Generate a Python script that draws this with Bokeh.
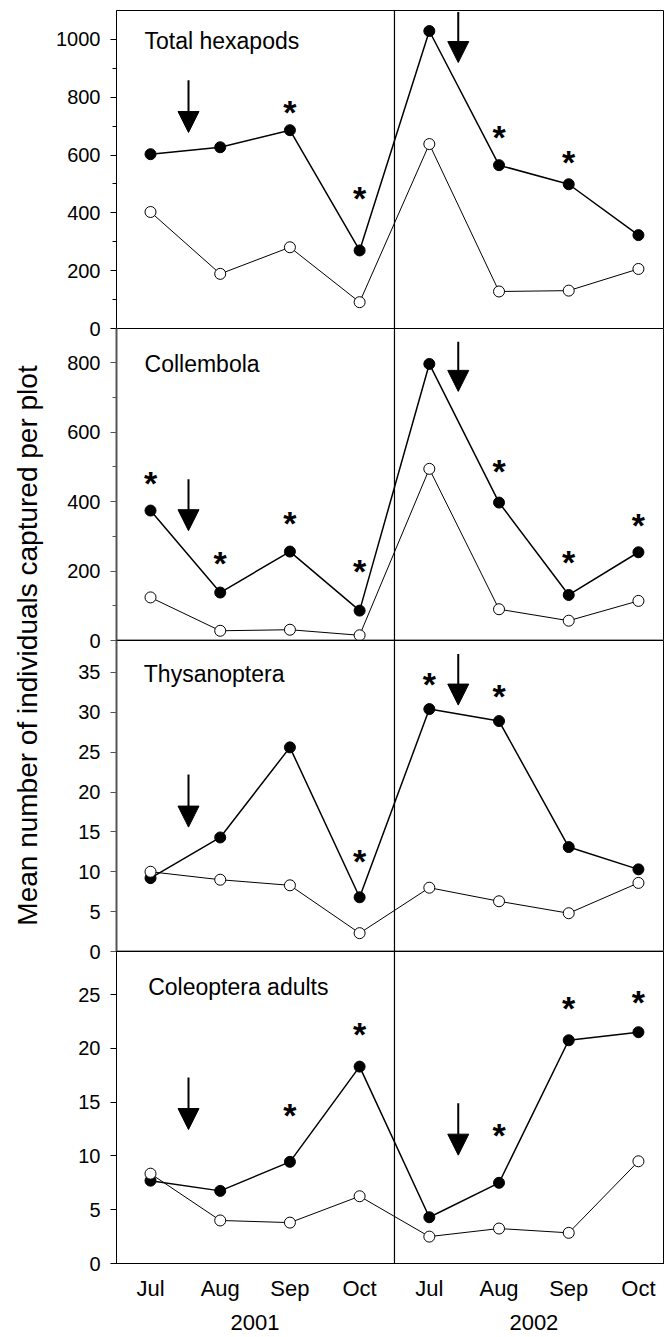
import math
from bokeh.plotting import figure
from bokeh.layouts import row, column
from bokeh.models import Range1d, FixedTicker, Span, Label, Arrow, NormalHead, LinearAxis
from bokeh.core.properties import value
from bokeh.embed import file_html
from bokeh.resources import INLINE

# ---------------- data ----------------
months = ["Jul", "Aug", "Sep", "Oct", "Jul", "Aug", "Sep", "Oct"]
years = ["2001", "2002"]
year_pos = [1.5, 5.5]
xpos = [0, 1, 2, 3, 4, 5, 6, 7]

hex_filled = [603, 627, 686, 270, 1029, 565, 499, 323]
hex_open = [403, 189, 281, 91, 638, 128, 131, 206]
coll_filled = [374, 138, 256, 86, 796, 397, 131, 254]
coll_open = [124, 28, 31, 15, 494, 90, 57, 114]
thys_filled = [9.2, 14.3, 25.6, 6.8, 30.4, 28.9, 13.1, 10.3]
thys_open = [10.0, 9.0, 8.3, 2.3, 8.0, 6.3, 4.8, 8.6]
cole_filled = [7.7, 6.75, 9.45, 18.3, 4.3, 7.5, 20.75, 21.5]
cole_open = [8.35, 4.0, 3.8, 6.25, 2.5, 3.25, 2.85, 9.5]

# significance asterisks (x index, y level)
hex_star_x = [2, 3, 5, 6]
hex_star_y = [766, 467, 679, 593]
coll_star_x = [0, 1, 2, 3, 5, 6, 7]
coll_star_y = [467, 237, 352, 215, 501, 240, 347]
thys_star_x = [3, 4, 5]
thys_star_y = [12.0, 34.2, 32.7]
cole_star_x = [2, 3, 5, 6, 7]
cole_star_y = [14.25, 21.8, 12.4, 24.2, 24.8]

FONT = "Liberation Sans"

panels = [
    dict(title="Total hexapods", filled=hex_filled, opn=hex_open, sx=hex_star_x, sy=hex_star_y,
         ymax=1100, ticks=[0, 200, 400, 600, 800, 1000], minor=[100, 300, 500, 700, 900],
         tpos=(-0.086, 1041), arrows=[(0.545, 859, 678), (4.415, 1095, 920)], fh=318,
         top=10, gray=False),
    dict(title="Collembola", filled=coll_filled, opn=coll_open, sx=coll_star_x, sy=coll_star_y,
         ymax=898, ticks=[0, 200, 400, 600, 800], minor=[100, 300, 500, 700],
         tpos=(-0.086, 834), arrows=[(0.545, 464, 316), (4.415, 860, 717)], fh=312,
         top=0, gray=True),
    dict(title="Thysanoptera", filled=thys_filled, opn=thys_open, sx=thys_star_x, sy=thys_star_y,
         ymax=39, ticks=[0, 5, 10, 15, 20, 25, 30, 35], minor=[],
         tpos=(-0.096, 36.4), arrows=[(0.545, 22.2, 15.6), (4.415, 37.3, 30.9)], fh=311,
         top=0, gray=True),
    dict(title="Coleoptera adults", filled=cole_filled, opn=cole_open, sx=cole_star_x, sy=cole_star_y,
         ymax=29, ticks=[0, 5, 10, 15, 20, 25], minor=[],
         tpos=(-0.033, 26.9), arrows=[(0.545, 17.3, 12.45), (4.415, 14.9, 10.07)], fh=312,
         top=0, gray=False),
]

LAB_W = 52
LEFT = 64
FRAME_W = 548
PW = LEFT + FRAME_W
OVER = 12        # overlap so the "0" tick label of an upper panel is not cut
BOTTOM4 = 73
xr = (-0.488, 7.374)

figs = []
for i, cfg in enumerate(panels):
    last = (i == len(panels) - 1)
    bottom = BOTTOM4 if last else OVER
    h = cfg["top"] + cfg["fh"] + bottom
    p = figure(width=PW, height=h,
               x_range=Range1d(*xr), y_range=Range1d(0, cfg["ymax"]),
               toolbar_location=None, output_backend="svg",
               x_axis_location="below" if last else None,
               min_border_left=LEFT, min_border_right=0,
               min_border_top=cfg["top"], min_border_bottom=bottom,
               margin=(0, 0, 0 if last else -OVER, 0))
    p.xgrid.visible = False
    p.ygrid.visible = False
    p.outline_line_color = "black"
    p.outline_line_width = 1
    p.background_fill_color = "white"
    p.border_fill_color = None if i > 0 else "white"

    ya = p.yaxis[0]
    ya.ticker = FixedTicker(ticks=cfg["ticks"], minor_ticks=cfg["minor"])
    ya.major_label_text_font = FONT
    ya.major_label_text_font_size = "20px"
    ya.major_label_text_color = "black"
    ya.major_tick_out = 6
    ya.major_tick_in = 0
    ya.minor_tick_out = 4
    ya.minor_tick_in = 0
    ya.major_label_standoff = 10
    axcol = "#555555" if cfg["gray"] else "black"
    ya.axis_line_color = axcol
    ya.axis_line_width = 2 if cfg["gray"] else 1
    ya.major_tick_line_color = axcol
    ya.minor_tick_line_color = axcol

    if last:
        xa = p.xaxis[0]
        xa.ticker = FixedTicker(ticks=xpos)
        xa.major_label_overrides = {k: m for k, m in zip(xpos, months)}
        xa.major_label_text_font = FONT
        xa.major_label_text_font_size = "22px"
        xa.major_label_text_color = "black"
        xa.major_tick_line_color = None
        xa.minor_tick_line_color = None
        xa.major_tick_out = 0
        xa.major_label_standoff = 12
        xa.axis_line_color = "black"
        ya2 = LinearAxis(ticker=FixedTicker(ticks=year_pos),
                         major_label_overrides={k: t for k, t in zip(year_pos, years)},
                         major_label_text_font=FONT, major_label_text_font_size="22px",
                         major_label_text_color="black", major_tick_line_color=None,
                         minor_tick_line_color=None, axis_line_color=None,
                         major_tick_out=0, major_label_standoff=11)
        p.add_layout(ya2, "below")

    if cfg["gray"]:
        p.add_layout(Span(location=0, dimension="width", line_color="#444444", line_width=2))

    # divider between years
    p.add_layout(Span(location=3.5, dimension="height", line_color="black", line_width=1.2))

    # data
    p.line(xpos, cfg["filled"], line_color="black", line_width=1.5)
    p.line(xpos, cfg["opn"], line_color="black", line_width=1.0)
    p.scatter(xpos, cfg["filled"], marker="circle", size=11, fill_color="black", line_color="black")
    p.scatter(xpos, cfg["opn"], marker="circle", size=11, fill_color="white", line_color="black",
              line_width=1)

    # asterisks
    p.text(x=cfg["sx"], y=cfg["sy"], text=["*"] * len(cfg["sx"]),
           text_font=value(FONT), text_font_style="bold", text_font_size=value("34px"),
           text_align="center", text_baseline="alphabetic", y_offset=5, text_color="black")

    # arrows
    for ax, y0, y1 in cfg["arrows"]:
        p.add_layout(Arrow(end=NormalHead(size=21, fill_color="black", line_color="black"),
                           x_start=ax, y_start=y0, x_end=ax, y_end=y1,
                           line_color="black", line_width=2))

    # panel title
    tx, ty = cfg["tpos"]
    p.add_layout(Label(x=tx, y=ty, text=cfg["title"], text_font=FONT, text_font_size="23px",
                       text_align="left", text_baseline="top", text_color="black"))
    figs.append(p)

TOTAL_H = 10 + 318 + 312 + 311 + 312 + BOTTOM4
lab = figure(width=LAB_W, height=TOTAL_H, x_range=Range1d(0, LAB_W), y_range=Range1d(0, TOTAL_H),
             toolbar_location=None, output_backend="svg", min_border=0,
             x_axis_location=None, y_axis_location=None)
lab.xgrid.visible = False
lab.ygrid.visible = False
lab.outline_line_color = None
lab.add_layout(Label(x=27, y=TOTAL_H - 645, text="Mean number of individuals captured per plot",
                     angle=math.pi / 2, text_font=FONT, text_font_size="28px",
                     text_align="center", text_baseline="alphabetic", text_color="black"))

layout = row(lab, column(*figs, spacing=0), spacing=0)

with open("out.html", "w") as f:
    f.write(file_html(layout, INLINE))
